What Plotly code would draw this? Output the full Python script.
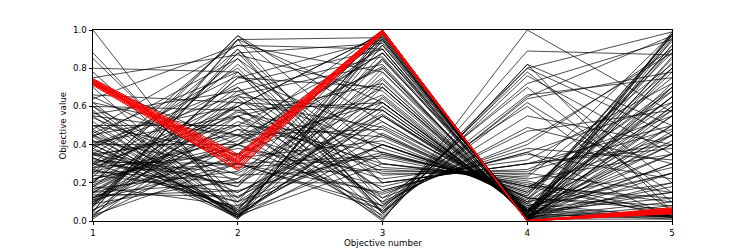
import plotly.graph_objects as go

objective_numbers = [1, 2, 3, 4, 5]
y_tick_values = [0.0, 0.2, 0.4, 0.6, 0.8, 1.0]
y_tick_labels = ["0.0", "0.2", "0.4", "0.6", "0.8", "1.0"]

# ---- black solutions: one value per objective ----
black_obj1 = [1.00, 0.88, 0.85, 0.52, 0.48, 0.45, 0.42, 0.40, 0.38, 0.36, 0.55, 0.60, 0.33, 0.58, 0.62, 0.35,
              0.44, 0.50, 0.30, 0.70, 0.78, 0.40, 0.47,
              0.20, 0.15, 0.25, 0.10, 0.30, 0.08, 0.18, 0.22, 0.05, 0.12, 0.28, 0.35, 0.60,
              0.30, 0.40, 0.20, 0.55, 0.10, 0.45, 0.25, 0.65, 0.15, 0.35, 0.50,
              0.05, 0.12, 0.22, 0.18, 0.08, 0.32, 0.02, 0.40, 0.28, 0.15, 0.10, 0.26, 0.07, 0.45, 0.35,
              0.20, 0.03, 0.60, 0.17, 0.12, 0.38, 0.24, 0.01, 0.50, 0.09, 0.30, 0.42, 0.14, 0.20, 0.56,
              0.75, 0.80, 0.04, 0.33, 0.62, 0.16, 0.27, 0.11, 0.48, 0.37, 0.19, 0.06, 0.29, 0.54, 0.13,
              0.41, 0.23, 0.02, 0.66, 0.31, 0.44, 0.09, 0.18, 0.39, 0.26, 0.05, 0.57, 0.21, 0.72, 0.15,
              0.34, 0.08, 0.46, 0.03, 0.64, 0.27, 0.11]
black_obj2 = [0.03, 0.08, 0.12, 0.02, 0.03, 0.01, 0.04, 0.02, 0.05, 0.03, 0.02, 0.04, 0.06, 0.01, 0.05, 0.02,
              0.03, 0.06, 0.07, 0.03, 0.10, 0.05, 0.02,
              0.45, 0.60, 0.30, 0.75, 0.22, 0.88, 0.50, 0.40, 0.95, 0.68, 0.35, 0.18, 0.20,
              0.55, 0.70, 0.85, 0.45, 0.40, 0.60, 0.90, 0.30, 0.55, 0.80, 0.50,
              0.62, 0.48, 0.38, 0.70, 0.95, 0.25, 0.78, 0.40, 0.60, 0.33, 0.52, 0.20, 0.88, 0.15, 0.45,
              0.97, 0.65, 0.58, 0.26, 0.40, 0.76, 0.15, 0.55, 0.35, 0.22, 0.95, 0.28, 0.13, 0.82, 0.68,
              0.87, 0.78, 0.44, 0.10, 0.45, 0.57, 0.64, 0.30, 0.92, 0.18, 0.48, 0.35, 0.72, 0.24, 0.16,
              0.55, 0.97, 0.40, 0.62, 0.30, 0.85, 0.75, 0.08, 0.66, 0.42, 0.90, 0.12, 0.60, 0.40, 0.20,
              0.50, 0.66, 0.78, 0.30, 0.92, 0.10, 0.58]
black_obj3 = [0.55, 0.72, 0.60, 0.95, 0.92, 0.98, 0.85, 0.78, 0.65, 0.50, 0.40, 0.35, 0.88, 0.70, 0.45, 0.96,
              0.30, 0.80, 0.62, 0.55, 0.40, 0.99, 0.58,
              1.00, 0.98, 0.97, 0.95, 0.99, 0.93, 0.90, 0.88, 0.96, 0.86, 0.92, 0.94, 0.84,
              0.00, 0.02, 0.05, 0.03, 0.08, 0.10, 0.04, 0.06, 0.12, 0.07, 0.01,
              0.49, 0.36, 0.25, 0.16, 0.09, 0.64, 0.04, 0.81, 0.01, 0.42, 0.30, 0.20, 0.12, 0.55, 0.22,
              0.35, 0.58, 0.28, 0.70, 0.18, 0.45, 0.52, 0.26, 0.14, 0.75, 0.62, 0.33, 0.46, 0.24, 0.38,
              0.68, 0.20, 0.80, 0.60, 0.48, 0.40, 0.10, 0.15, 0.78, 0.85, 0.05, 0.66, 0.90, 0.27, 0.36,
              0.72, 0.52, 0.95, 0.58, 0.08, 0.30, 0.70, 0.40, 0.16, 0.88, 0.20, 0.74, 0.98, 0.62, 0.56,
              0.44, 0.82, 0.05, 0.34, 0.90, 0.97, 0.62]
black_obj4 = [0.10, 0.04, 0.06, 0.01, 0.02, 0.00, 0.03, 0.05, 0.04, 0.12, 0.15, 0.18, 0.02, 0.03, 0.10, 0.01,
              0.22, 0.04, 0.05, 0.08, 0.14, 0.00, 0.06,
              0.00, 0.01, 0.02, 0.02, 0.01, 0.03, 0.04, 0.05, 0.01, 0.03, 0.03, 0.02, 0.06,
              1.00, 0.80, 0.78, 0.89, 0.72, 0.70, 0.76, 0.80, 0.60, 0.66, 0.82,
              0.09, 0.16, 0.25, 0.36, 0.49, 0.04, 0.65, 0.01, 0.82, 0.12, 0.20, 0.30, 0.42, 0.07, 0.32,
              0.18, 0.06, 0.24, 0.05, 0.35, 0.12, 0.09, 0.26, 0.40, 0.03, 0.06, 0.18, 0.10, 0.27, 0.15,
              0.05, 0.30, 0.02, 0.05, 0.09, 0.13, 0.47, 0.38, 0.02, 0.02, 0.62, 0.05, 0.01, 0.23, 0.17,
              0.04, 0.08, 0.00, 0.06, 0.55, 0.21, 0.04, 0.13, 0.36, 0.02, 0.30, 0.03, 0.01, 0.05, 0.07,
              0.11, 0.01, 0.64, 0.19, 0.01, 0.01, 0.06]
black_obj5 = [0.62, 0.85, 0.40, 0.98, 0.30, 0.70, 0.15, 0.92, 0.55, 0.08, 0.75, 0.45, 0.02, 0.03, 0.97, 0.50,
              0.35, 0.01, 0.68, 0.20, 0.88, 0.04, 0.25,
              0.60, 0.95, 0.10, 0.80, 0.03, 0.40, 0.70, 0.02, 0.55, 0.90, 0.30, 0.05, 0.65,
              0.57, 0.45, 0.20, 0.87, 0.95, 0.10, 0.35, 0.99, 0.05, 0.75, 0.50,
              0.45, 0.80, 0.15, 0.62, 0.30, 0.92, 0.97, 0.25, 0.05, 0.58, 0.02, 0.40, 0.88, 0.50, 0.72,
              0.12, 0.35, 0.98, 0.78, 0.22, 0.06, 0.65, 0.48, 0.90, 0.18, 0.42, 0.03, 0.28, 0.55, 0.70,
              0.96, 0.38, 0.83, 0.12, 0.02, 0.94, 0.58, 0.32, 0.47, 0.99, 0.15, 0.60, 0.08, 0.82, 0.68,
              0.98, 0.25, 0.45, 0.15, 0.40, 0.04, 0.65, 0.90, 0.02, 0.72, 0.50, 0.35, 0.01, 0.80, 0.03,
              0.97, 0.20, 0.78, 0.10, 0.58, 0.86, 0.02]

# ---- red (highlighted) solutions ----
red_obj1 = [0.745, 0.740, 0.735, 0.730, 0.728, 0.725, 0.720, 0.715, 0.710, 0.735, 0.742, 0.722, 0.718]
red_obj2 = [0.350, 0.340, 0.330, 0.320, 0.310, 0.300, 0.290, 0.280, 0.270, 0.265, 0.315, 0.335, 0.305]
red_obj3 = [1.000, 1.000, 0.995, 0.995, 0.990, 0.990, 0.985, 0.985, 0.980, 0.990, 1.000, 0.995, 0.990]
red_obj4 = [0.000, 0.000, 0.000, 0.002, 0.000, 0.003, 0.000, 0.002, 0.000, 0.000, 0.001, 0.000, 0.000]
red_obj5 = [0.070, 0.065, 0.060, 0.058, 0.055, 0.050, 0.048, 0.045, 0.040, 0.042, 0.052, 0.062, 0.038]


def polylines(cols):
    xs, ys = [], []
    for row in zip(*cols):
        xs.extend(objective_numbers + [None])
        ys.extend(list(row) + [None])
    return xs, ys


bx, by = polylines([black_obj1, black_obj2, black_obj3, black_obj4, black_obj5])
rx, ry = polylines([red_obj1, red_obj2, red_obj3, red_obj4, red_obj5])

fig = go.Figure()
fig.add_trace(go.Scatter(x=bx, y=by, mode="lines", line=dict(color="black", width=0.7),
                         hoverinfo="skip", showlegend=False))
fig.add_trace(go.Scatter(x=rx, y=ry, mode="lines", line=dict(color="red", width=1.0),
                         hoverinfo="skip", showlegend=False))

font = dict(family="DejaVu Sans", size=8.7, color="black")
axis_common = dict(showgrid=False, zeroline=False, showline=True, mirror=True,
                   linecolor="black", linewidth=0.8, ticks="outside", ticklen=3.5,
                   tickwidth=0.8, tickcolor="black", tickfont=font)

# the page body adds an 8px margin, so the figure is made 8px smaller on each side
fig.update_layout(
    width=739, height=241,
    margin=dict(l=85, r=75, t=22, b=28),
    plot_bgcolor="white", paper_bgcolor="white",
    xaxis=dict(range=[1, 5], tickvals=objective_numbers,
               ticktext=[str(v) for v in objective_numbers], **axis_common),
    yaxis=dict(range=[0, 1], tickvals=y_tick_values, ticktext=y_tick_labels, **axis_common),
    annotations=[
        dict(text="Objective number", xref="paper", yref="paper", x=0.5, y=-0.115,
             xanchor="center", yanchor="middle", showarrow=False, font=font),
        dict(text="Objective value", xref="paper", yref="paper", x=-0.0535, y=0.5,
             xanchor="center", yanchor="middle", textangle=-90, showarrow=False, font=font),
    ],
)

fig.write_html("out.html")
